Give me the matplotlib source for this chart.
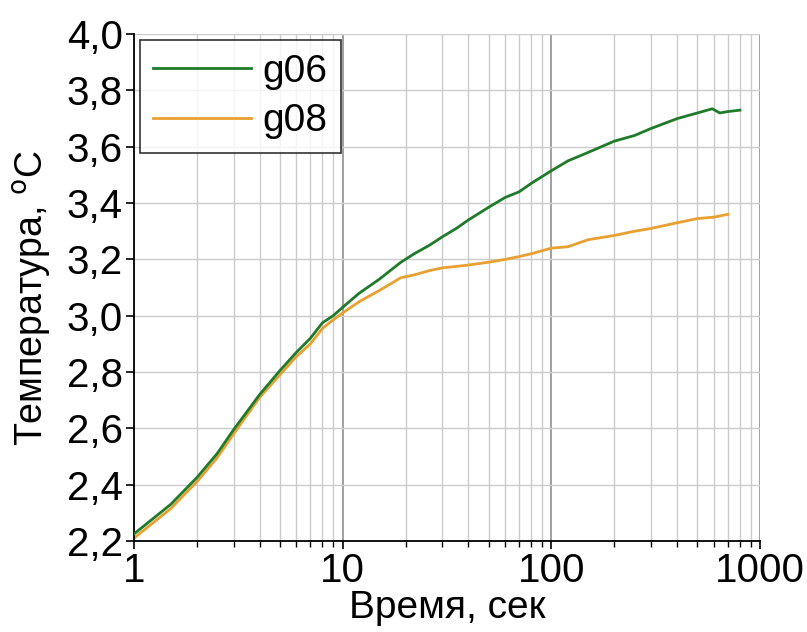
import numpy as np
import matplotlib
matplotlib.use("Agg")
import matplotlib.pyplot as plt
from matplotlib.ticker import FuncFormatter, LogLocator

plt.rcParams['font.family'] = ['Liberation Sans', 'DejaVu Sans']

# time, s
t_g06 = [1, 1.5, 2, 2.5, 3, 4, 5, 6, 7, 8, 9, 10, 12, 15, 19, 22, 26, 30, 35, 40, 50, 60, 70, 80, 100,
         120, 150, 200, 250, 300, 400, 500, 590, 640, 700, 800]
T_g06 = [2.225, 2.33, 2.425, 2.51, 2.595, 2.72, 2.805, 2.87, 2.92, 2.975, 3.00, 3.03, 3.08, 3.13, 3.19,
         3.22, 3.25, 3.28, 3.31, 3.34, 3.385, 3.42, 3.44, 3.47, 3.515, 3.55, 3.58, 3.62, 3.64, 3.665,
         3.70, 3.72, 3.735, 3.72, 3.725, 3.73]

t_g08 = [1, 1.5, 2, 2.5, 3, 4, 5, 6, 7, 8, 9, 10, 12, 15, 19, 22, 26, 30, 35, 40, 50, 60, 70, 80, 100,
         120, 150, 200, 250, 300, 400, 500, 600, 700]
T_g08 = [2.21, 2.315, 2.41, 2.495, 2.58, 2.71, 2.79, 2.855, 2.90, 2.955, 2.985, 3.01, 3.05, 3.09, 3.135,
         3.145, 3.16, 3.17, 3.175, 3.18, 3.19, 3.20, 3.21, 3.22, 3.24, 3.245, 3.27, 3.285, 3.30, 3.31,
         3.33, 3.345, 3.35, 3.36]

fig = plt.figure(figsize=(8.07, 6.32), dpi=100)
ax = fig.add_axes([0.166, 0.144, 0.776, 0.802])

ax.plot(t_g06, T_g06, color='#1f7a2a', lw=2, label='g06', zorder=3)
ax.plot(t_g08, T_g08, color='#e8a030', lw=2, label='g08', zorder=2)

ax.set_xscale('log')
ax.set_xlim(1, 1000)
ax.set_ylim(2.2, 4.0)
ax.set_yticks(np.arange(2.2, 4.01, 0.2))
ax.yaxis.set_major_formatter(FuncFormatter(lambda v, p: f'{v:.1f}'.replace('.', ',')))
ax.xaxis.set_major_formatter(FuncFormatter(lambda v, p: f'{v:g}'))
ax.xaxis.set_minor_locator(LogLocator(base=10, subs=np.arange(2, 10)))
ax.xaxis.set_minor_formatter(FuncFormatter(lambda v, p: ''))

ax.grid(True, which='major', axis='x', color='#999999', lw=1.3)
ax.grid(True, which='minor', axis='x', color='#cccccc', lw=1)
ax.grid(True, which='major', axis='y', color='#cccccc', lw=1)
ax.set_axisbelow(True)

for s in ['top', 'right']:
    ax.spines[s].set_visible(False)
ax.spines['left'].set_linewidth(1.3)
ax.spines['bottom'].set_linewidth(1.3)
ax.tick_params(axis='both', which='major', direction='out', length=6, width=1.2, labelsize=29, pad=2)
ax.tick_params(axis='x', which='minor', direction='out', length=4, width=1)

ax.set_xlabel('Время, сек', fontsize=28, labelpad=0)
ax.set_ylabel('Температура, $^{\\mathrm{o}}$C', fontsize=27)
ax.yaxis.set_label_coords(-0.13, 0.48)

leg = ax.legend(loc='upper left', fontsize=28, handlelength=2.5, frameon=True, fancybox=False,
                edgecolor='black', borderpad=0.35, labelspacing=0.35, handletextpad=0.3,
                borderaxespad=0.15)
leg.get_frame().set_linewidth(1.2)

fig.savefig('out.png', dpi=100)
